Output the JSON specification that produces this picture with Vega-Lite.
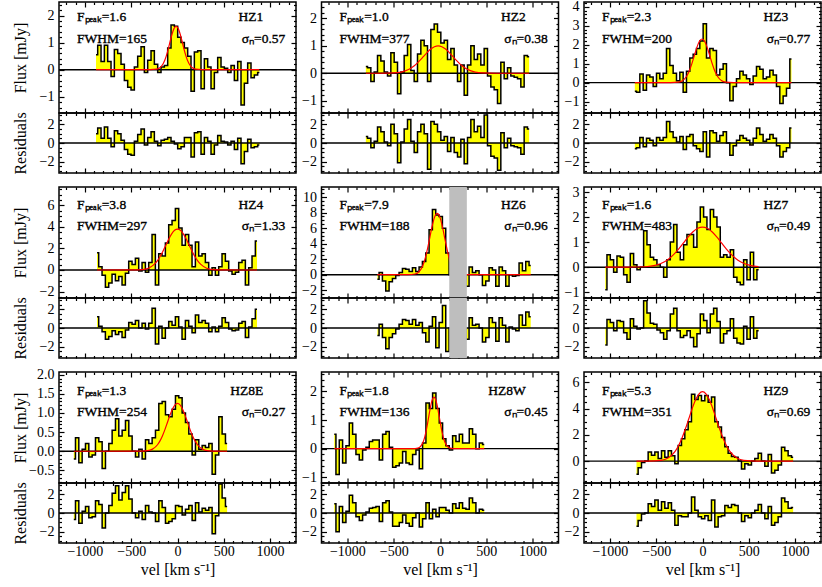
{
"$schema": "https://vega.github.io/schema/vega-lite/v6.json",
"background": "white",
"padding": {"left": 11, "top": -2, "right": 0, "bottom": 0},
"config": {
 "view": {"stroke": "black", "strokeWidth": 1.5},
 "axis": {"domain": false, "grid": false, "tickColor": "black", "tickSize": -5, "tickWidth": 1.2, "labelFont": "Liberation Serif", "labelFontSize": 14, "labelColor": "black", "titleFont": "Liberation Serif", "titleFontSize": 16, "titleFontWeight": "normal", "titleColor": "black", "labelFlush": false, "labelOverlap": false, "labelBound": false, "titlePadding": 3},
 "axisX": {"labelPadding": 6},
 "axisY": {"labelPadding": 10},
 "text": {"font": "Liberation Serif", "fontSize": 13.5, "baseline": "middle", "fill": "black", "stroke": "black", "strokeWidth": 0.35, "fontWeight": "normal"}
},
"datasets": {
 "HZ1": [{"v":-880,"f":0.55,"r":1.0},{"v":-844,"f":0.9,"r":1.6},{"v":-808,"f":0.3,"r":0.5},{"v":-772,"f":0.9,"r":1.7},{"v":-736,"f":0.3,"r":0.5},{"v":-700,"f":-0.25,"r":-0.4},{"v":-664,"f":0.75,"r":1.3},{"v":-628,"f":0.6,"r":1.0},{"v":-592,"f":0.2,"r":0.3},{"v":-556,"f":-0.4,"r":-0.7},{"v":-520,"f":-0.65,"r":-1.2},{"v":-484,"f":-0.75,"r":-1.3},{"v":-448,"f":0.1,"r":0.2},{"v":-412,"f":0.5,"r":0.9},{"v":-376,"f":0.85,"r":1.5},{"v":-340,"f":-0.1,"r":-0.2},{"v":-304,"f":0.35,"r":0.6},{"v":-268,"f":0.7,"r":1.2},{"v":-232,"f":0.2,"r":0.2},{"v":-196,"f":-0.1,"r":-0.3},{"v":-160,"f":0.1,"r":0.3},{"v":-124,"f":0.15,"r":0.4},{"v":-88,"f":0.8,"r":0.6},{"v":-52,"f":1.65,"r":0.2},{"v":-16,"f":1.6,"r":-0.1},{"v":20,"f":1.2,"r":-0.6},{"v":56,"f":1.0,"r":-0.4},{"v":92,"f":0.8,"r":0.6},{"v":128,"f":0.5,"r":0.6},{"v":164,"f":-0.8,"r":-1.5},{"v":200,"f":0.65,"r":1.1},{"v":236,"f":0.7,"r":1.2},{"v":272,"f":-0.7,"r":-1.2},{"v":308,"f":0.4,"r":0.6},{"v":344,"f":0.1,"r":0.2},{"v":380,"f":-0.7,"r":-1.2},{"v":416,"f":-0.1,"r":-0.2},{"v":452,"f":0.45,"r":0.8},{"v":488,"f":0.1,"r":0.2},{"v":524,"f":0.05,"r":0.1},{"v":560,"f":-0.1,"r":-0.2},{"v":596,"f":0.15,"r":0.2},{"v":632,"f":-0.4,"r":-0.7},{"v":668,"f":0.3,"r":0.5},{"v":704,"f":-1.3,"r":-2.2},{"v":740,"f":-0.5,"r":-0.9},{"v":776,"f":0.25,"r":0.4},{"v":812,"f":-0.3,"r":-0.5},{"v":848,"f":-0.2,"r":-0.4},{"v":884,"f":-0.1,"r":-0.2}],
 "HZ1g": [{"v":-880,"g":0},{"v":-295,"g":0.0005},{"v":-225,"g":0.018},{"v":-190,"g":0.07},{"v":-155,"g":0.216},{"v":-137.5,"g":0.346},{"v":-120,"g":0.52},{"v":-102.5,"g":0.732},{"v":-85,"g":0.97},{"v":-67.5,"g":1.208},{"v":-50,"g":1.412},{"v":-32.5,"g":1.551},{"v":-15,"g":1.6},{"v":2.5,"g":1.551},{"v":20,"g":1.412},{"v":37.5,"g":1.208},{"v":55,"g":0.97},{"v":72.5,"g":0.732},{"v":90,"g":0.52},{"v":107.5,"g":0.346},{"v":125,"g":0.216},{"v":160,"g":0.07},{"v":195,"g":0.018},{"v":265,"g":0.0005},{"v":884,"g":0}],
 "HZ2": [{"v":-801,"f":0.25,"r":0.7},{"v":-765,"f":0.2,"r":0.5},{"v":-729,"f":-0.3,"r":-0.5},{"v":-693,"f":0.05,"r":0.2},{"v":-657,"f":0.65,"r":1.7},{"v":-621,"f":0.45,"r":1.2},{"v":-585,"f":0.05,"r":0.1},{"v":-549,"f":-0.1,"r":-0.3},{"v":-513,"f":0.75,"r":2.0},{"v":-477,"f":0.4,"r":1.0},{"v":-441,"f":-0.75,"r":-2.1},{"v":-405,"f":0.05,"r":0.1},{"v":-369,"f":0.65,"r":1.5},{"v":-333,"f":1.05,"r":2.5},{"v":-297,"f":0.1,"r":0.2},{"v":-261,"f":-0.3,"r":-1.0},{"v":-225,"f":0.7,"r":1.2},{"v":-189,"f":1.2,"r":2.0},{"v":-153,"f":1.0,"r":1.0},{"v":-117,"f":-0.3,"r":-2.8},{"v":-81,"f":1.6,"r":2.3},{"v":-45,"f":1.8,"r":2.0},{"v":-9,"f":1.5,"r":1.2},{"v":27,"f":1.1,"r":0.3},{"v":63,"f":1.2,"r":0.7},{"v":99,"f":0.5,"r":-0.9},{"v":135,"f":0.9,"r":0.6},{"v":171,"f":0.3,"r":-1.0},{"v":207,"f":-0.3,"r":-1.5},{"v":243,"f":0.3,"r":0.4},{"v":279,"f":-0.8,"r":-2.2},{"v":315,"f":0.3,"r":0.6},{"v":351,"f":1.0,"r":2.5},{"v":387,"f":0.5,"r":1.2},{"v":423,"f":0.7,"r":1.8},{"v":459,"f":0.3,"r":0.6},{"v":495,"f":0.9,"r":3.0},{"v":531,"f":-0.1,"r":-0.3},{"v":567,"f":-0.5,"r":-1.4},{"v":603,"f":-0.6,"r":-1.6},{"v":639,"f":-1.1,"r":-2.9},{"v":675,"f":0.4,"r":1.1},{"v":711,"f":-0.2,"r":-0.5},{"v":747,"f":0.2,"r":0.5},{"v":783,"f":-0.1,"r":-0.3},{"v":819,"f":-0.15,"r":-0.4},{"v":855,"f":-0.2,"r":-0.5},{"v":891,"f":-0.5,"r":-1.2},{"v":927,"f":0.65,"r":1.7},{"v":963,"f":0.6,"r":1.5}],
 "HZ2g": [{"v":-801,"g":0},{"v":-660,"g":0.0003},{"v":-500,"g":0.011},{"v":-420,"g":0.044},{"v":-340,"g":0.135},{"v":-300,"g":0.216},{"v":-260,"g":0.325},{"v":-220,"g":0.458},{"v":-180,"g":0.607},{"v":-140,"g":0.755},{"v":-100,"g":0.883},{"v":-60,"g":0.969},{"v":-20,"g":1.0},{"v":20,"g":0.969},{"v":60,"g":0.883},{"v":100,"g":0.755},{"v":140,"g":0.607},{"v":180,"g":0.458},{"v":220,"g":0.325},{"v":260,"g":0.216},{"v":300,"g":0.135},{"v":380,"g":0.044},{"v":460,"g":0.011},{"v":620,"g":0.0003},{"v":963,"g":0}],
 "HZ3": [{"v":-731,"f":-0.45,"r":-0.6},{"v":-695,"f":-0.5,"r":-0.5},{"v":-659,"f":0.45,"r":0.6},{"v":-623,"f":-0.4,"r":-0.4},{"v":-587,"f":0.4,"r":0.5},{"v":-551,"f":0.3,"r":0.3},{"v":-515,"f":-0.2,"r":-0.3},{"v":-479,"f":0.5,"r":0.6},{"v":-443,"f":0.2,"r":0.3},{"v":-407,"f":0.5,"r":0.6},{"v":-371,"f":1.8,"r":2.3},{"v":-335,"f":0.9,"r":1.2},{"v":-299,"f":0.5,"r":0.6},{"v":-263,"f":0.1,"r":0.1},{"v":-227,"f":0.55,"r":0.7},{"v":-191,"f":-0.5,"r":-0.7},{"v":-155,"f":0.6,"r":0.7},{"v":-119,"f":1.3,"r":0.9},{"v":-83,"f":1.5,"r":-0.3},{"v":-47,"f":1.8,"r":-0.6},{"v":-11,"f":2.2,"r":-0.9},{"v":25,"f":3.1,"r":1.2},{"v":61,"f":1.3,"r":-1.5},{"v":97,"f":1.8,"r":1.3},{"v":133,"f":1.7,"r":1.1},{"v":169,"f":0.4,"r":0.2},{"v":205,"f":0.7,"r":0.8},{"v":241,"f":1.0,"r":1.2},{"v":277,"f":0.0,"r":0.0},{"v":313,"f":-0.95,"r":-1.3},{"v":349,"f":-0.2,"r":-0.3},{"v":385,"f":0.2,"r":0.3},{"v":421,"f":0.6,"r":0.8},{"v":457,"f":0.4,"r":0.5},{"v":493,"f":0.2,"r":0.3},{"v":529,"f":-0.1,"r":-0.2},{"v":565,"f":0.35,"r":0.5},{"v":601,"f":0.85,"r":1.6},{"v":637,"f":0.7,"r":0.9},{"v":673,"f":0.2,"r":0.2},{"v":709,"f":0.3,"r":0.4},{"v":745,"f":0.65,"r":0.9},{"v":781,"f":0.4,"r":0.5},{"v":817,"f":-0.2,"r":-0.3},{"v":853,"f":-1.1,"r":-1.5},{"v":889,"f":-0.7,"r":-0.9},{"v":925,"f":-0.3,"r":-0.5},{"v":961,"f":1.25,"r":1.6}],
 "HZ3g": [{"v":-731,"g":0},{"v":-345,"g":0.0007},{"v":-260,"g":0.026},{"v":-217.5,"g":0.101},{"v":-175,"g":0.311},{"v":-153.75,"g":0.497},{"v":-132.5,"g":0.747},{"v":-111.25,"g":1.053},{"v":-90,"g":1.395},{"v":-68.75,"g":1.736},{"v":-47.5,"g":2.03},{"v":-26.25,"g":2.229},{"v":-5,"g":2.3},{"v":16.25,"g":2.229},{"v":37.5,"g":2.03},{"v":58.75,"g":1.736},{"v":80,"g":1.395},{"v":101.25,"g":1.053},{"v":122.5,"g":0.747},{"v":143.75,"g":0.497},{"v":165,"g":0.311},{"v":207.5,"g":0.101},{"v":250,"g":0.026},{"v":335,"g":0.0007},{"v":961,"g":0}],
 "HZ4": [{"v":-869,"f":1.6,"r":1.2},{"v":-833,"f":0.3,"r":0.2},{"v":-797,"f":-0.5,"r":-0.4},{"v":-761,"f":-1.6,"r":-1.2},{"v":-725,"f":-1.2,"r":-0.9},{"v":-689,"f":-0.4,"r":-0.3},{"v":-653,"f":-1.0,"r":-0.7},{"v":-617,"f":-0.6,"r":-0.4},{"v":-581,"f":-1.4,"r":-1.0},{"v":-545,"f":-0.3,"r":-0.2},{"v":-509,"f":0.8,"r":0.6},{"v":-473,"f":0.5,"r":0.4},{"v":-437,"f":1.1,"r":0.8},{"v":-401,"f":-0.1,"r":0.0},{"v":-365,"f":0.7,"r":0.5},{"v":-329,"f":-0.2,"r":-0.1},{"v":-293,"f":0.7,"r":0.5},{"v":-257,"f":3.3,"r":2.1},{"v":-221,"f":-1.4,"r":-1.7},{"v":-185,"f":1.5,"r":0.2},{"v":-149,"f":1.3,"r":-1.1},{"v":-113,"f":2.5,"r":0.0},{"v":-77,"f":4.2,"r":0.7},{"v":-41,"f":4.6,"r":0.3},{"v":-5,"f":5.7,"r":1.2},{"v":31,"f":3.9,"r":0.1},{"v":67,"f":2.3,"r":-1.2},{"v":103,"f":3.3,"r":0.8},{"v":139,"f":2.3,"r":0.2},{"v":175,"f":0.3,"r":-0.5},{"v":211,"f":2.6,"r":1.4},{"v":247,"f":1.3,"r":0.6},{"v":283,"f":1.5,"r":0.8},{"v":319,"f":0.7,"r":0.5},{"v":355,"f":-0.5,"r":-0.4},{"v":391,"f":0.2,"r":0.1},{"v":427,"f":-0.5,"r":-0.4},{"v":463,"f":0.3,"r":0.2},{"v":499,"f":1.5,"r":1.1},{"v":535,"f":0.8,"r":0.6},{"v":571,"f":-0.1,"r":-0.1},{"v":607,"f":-0.4,"r":-0.3},{"v":643,"f":-0.2,"r":-0.2},{"v":679,"f":0.7,"r":0.5},{"v":715,"f":0.9,"r":0.7},{"v":751,"f":-1.4,"r":-1.0},{"v":787,"f":0.2,"r":0.1},{"v":823,"f":1.3,"r":1.0},{"v":859,"f":2.7,"r":2.0}],
 "HZ4g": [{"v":-869,"g":0},{"v":-504,"g":0.001},{"v":-378,"g":0.042},{"v":-315,"g":0.167},{"v":-252,"g":0.514},{"v":-220.5,"g":0.822},{"v":-189,"g":1.234},{"v":-157.5,"g":1.74},{"v":-126,"g":2.305},{"v":-94.5,"g":2.868},{"v":-63,"g":3.354},{"v":-31.5,"g":3.683},{"v":0,"g":3.8},{"v":31.5,"g":3.683},{"v":63,"g":3.354},{"v":94.5,"g":2.868},{"v":126,"g":2.305},{"v":157.5,"g":1.74},{"v":189,"g":1.234},{"v":220.5,"g":0.822},{"v":252,"g":0.514},{"v":315,"g":0.167},{"v":378,"g":0.042},{"v":504,"g":0.001},{"v":859,"g":0}],
 "HZ6": [{"v":-676,"f":-0.6,"r":-0.8},{"v":-640,"f":0.3,"r":0.4},{"v":-604,"f":-0.8,"r":-1.0},{"v":-568,"f":-2.1,"r":-2.2},{"v":-532,"f":-0.9,"r":-1.0},{"v":-496,"f":-0.5,"r":-0.6},{"v":-460,"f":-0.1,"r":-0.1},{"v":-424,"f":0.3,"r":0.4},{"v":-388,"f":0.8,"r":0.9},{"v":-352,"f":0.7,"r":0.8},{"v":-316,"f":0.4,"r":0.4},{"v":-280,"f":0.9,"r":0.9},{"v":-244,"f":0.4,"r":0.3},{"v":-208,"f":1.0,"r":0.6},{"v":-172,"f":1.7,"r":-0.5},{"v":-136,"f":2.8,"r":-1.5},{"v":-100,"f":5.8,"r":0.2},{"v":-64,"f":8.4,"r":1.2},{"v":-28,"f":7.7,"r":-2.1},{"v":8,"f":7.5,"r":0.6},{"v":44,"f":6.0,"r":2.4},{"v":80,"f":2.8,"r":-2.5},{"v":116,"f":0,"r":0},{"v":152,"f":0,"r":0},{"v":188,"f":0,"r":0},{"v":224,"f":0,"r":0},{"v":260,"f":0,"r":0},{"v":296,"f":-1.5,"r":-1.2},{"v":332,"f":1.0,"r":1.1},{"v":368,"f":0.3,"r":0.3},{"v":404,"f":0.5,"r":0.4},{"v":440,"f":0.0,"r":0.0},{"v":476,"f":-1.4,"r":-1.5},{"v":512,"f":-0.8,"r":-1.0},{"v":548,"f":0.9,"r":1.1},{"v":584,"f":0.6,"r":0.6},{"v":620,"f":-1.5,"r":-1.4},{"v":656,"f":1.0,"r":1.1},{"v":692,"f":0.5,"r":0.3},{"v":728,"f":-1.5,"r":-1.5},{"v":764,"f":0.0,"r":0.1},{"v":800,"f":-0.2,"r":-0.1},{"v":836,"f":-0.1,"r":-0.3},{"v":872,"f":1.5,"r":1.4},{"v":908,"f":0.5,"r":0.3},{"v":944,"f":1.7,"r":1.7},{"v":980,"f":1.2,"r":1.2}],
 "HZ6g": [{"v":-676,"g":0},{"v":-350,"g":0.002},{"v":-270,"g":0.088},{"v":-230,"g":0.347},{"v":-190,"g":1.069},{"v":-170,"g":1.709},{"v":-150,"g":2.565},{"v":-130,"g":3.617},{"v":-110,"g":4.791},{"v":-90,"g":5.963},{"v":-70,"g":6.972},{"v":-50,"g":7.657},{"v":-30,"g":7.9},{"v":-10,"g":7.657},{"v":10,"g":6.972},{"v":30,"g":5.963},{"v":50,"g":4.791},{"v":70,"g":3.617},{"v":90,"g":2.565},{"v":110,"g":1.709},{"v":130,"g":1.069},{"v":170,"g":0.347},{"v":210,"g":0.088},{"v":290,"g":0.002},{"v":980,"g":0}],
 "HZ7": [{"v":-1050,"f":-0.9,"r":-1.8},{"v":-1014,"f":0.5,"r":0.9},{"v":-978,"f":0.3,"r":0.6},{"v":-942,"f":-0.2,"r":-0.3},{"v":-906,"f":0.45,"r":0.8},{"v":-870,"f":0.4,"r":0.7},{"v":-834,"f":-0.3,"r":-0.5},{"v":-798,"f":-0.6,"r":-1.2},{"v":-762,"f":0.55,"r":1.0},{"v":-726,"f":0.1,"r":0.2},{"v":-690,"f":-0.1,"r":-0.1},{"v":-654,"f":0.0,"r":0.0},{"v":-618,"f":1.45,"r":2.9},{"v":-582,"f":0.9,"r":1.6},{"v":-546,"f":0.4,"r":0.5},{"v":-510,"f":0.3,"r":0.4},{"v":-474,"f":0.1,"r":-0.2},{"v":-438,"f":0.0,"r":-0.5},{"v":-402,"f":-0.4,"r":-1.2},{"v":-366,"f":0.3,"r":-0.3},{"v":-330,"f":1.0,"r":1.5},{"v":-294,"f":1.7,"r":2.1},{"v":-258,"f":0.6,"r":-0.3},{"v":-222,"f":0.3,"r":-1.0},{"v":-186,"f":0.9,"r":-0.8},{"v":-150,"f":1.3,"r":-0.3},{"v":-114,"f":1.3,"r":-1.0},{"v":-78,"f":0.8,"r":-2.0},{"v":-42,"f":1.8,"r":-0.6},{"v":-6,"f":2.4,"r":1.5},{"v":30,"f":2.0,"r":0.8},{"v":66,"f":1.5,"r":-0.5},{"v":102,"f":2.3,"r":1.5},{"v":138,"f":2.0,"r":2.1},{"v":174,"f":1.6,"r":0.7},{"v":210,"f":0.4,"r":-1.6},{"v":246,"f":0.5,"r":-0.6},{"v":282,"f":0.4,"r":-0.3},{"v":318,"f":0.7,"r":1.0},{"v":354,"f":-0.4,"r":-1.1},{"v":390,"f":-0.6,"r":-1.6},{"v":426,"f":-0.7,"r":-1.7},{"v":462,"f":0.3,"r":0.2},{"v":498,"f":-0.5,"r":-1.2},{"v":534,"f":0.6,"r":1.2},{"v":570,"f":-0.5,"r":-1.1},{"v":606,"f":-0.1,"r":-0.3}],
 "HZ7g": [{"v":-1050,"g":0},{"v":-820,"g":0.0005},{"v":-615,"g":0.018},{"v":-512.5,"g":0.07},{"v":-410,"g":0.216},{"v":-358.75,"g":0.346},{"v":-307.5,"g":0.52},{"v":-256.25,"g":0.732},{"v":-205,"g":0.97},{"v":-153.75,"g":1.208},{"v":-102.5,"g":1.412},{"v":-51.25,"g":1.551},{"v":0,"g":1.6},{"v":51.25,"g":1.551},{"v":102.5,"g":1.412},{"v":153.75,"g":1.208},{"v":205,"g":0.97},{"v":256.25,"g":0.732},{"v":307.5,"g":0.52},{"v":358.75,"g":0.346},{"v":410,"g":0.216},{"v":512.5,"g":0.07},{"v":606,"g":0.02}],
 "HZ8E": [{"v":-1120,"f":-0.2,"r":-0.7},{"v":-1084,"f":0.35,"r":1.3},{"v":-1048,"f":-0.3,"r":-1.1},{"v":-1012,"f":0.05,"r":0.2},{"v":-976,"f":0.2,"r":0.7},{"v":-940,"f":-0.15,"r":-0.5},{"v":-904,"f":-0.1,"r":-0.4},{"v":-868,"f":0.35,"r":1.3},{"v":-832,"f":0.25,"r":0.9},{"v":-796,"f":-0.45,"r":-1.6},{"v":-760,"f":0.0,"r":0.0},{"v":-724,"f":0.2,"r":0.8},{"v":-688,"f":0.55,"r":2.1},{"v":-652,"f":0.85,"r":2.9},{"v":-616,"f":0.4,"r":1.4},{"v":-580,"f":0.55,"r":2.2},{"v":-544,"f":0.8,"r":2.9},{"v":-508,"f":0.4,"r":1.5},{"v":-472,"f":0.0,"r":0.0},{"v":-436,"f":-0.15,"r":-0.5},{"v":-400,"f":0.05,"r":0.2},{"v":-364,"f":-0.2,"r":-0.7},{"v":-328,"f":0.3,"r":0.8},{"v":-292,"f":0.2,"r":0.1},{"v":-256,"f":0.35,"r":0.0},{"v":-220,"f":0.55,"r":-0.9},{"v":-184,"f":1.25,"r":1.3},{"v":-148,"f":1.3,"r":0.6},{"v":-112,"f":0.95,"r":-1.1},{"v":-76,"f":0.9,"r":-0.9},{"v":-40,"f":1.1,"r":-0.6},{"v":-4,"f":1.45,"r":0.8},{"v":32,"f":1.4,"r":0.7},{"v":68,"f":1.0,"r":-0.2},{"v":104,"f":0.75,"r":0.4},{"v":140,"f":0.45,"r":0.8},{"v":176,"f":-0.1,"r":-0.8},{"v":212,"f":0.3,"r":1.1},{"v":248,"f":0.05,"r":0.1},{"v":284,"f":0.15,"r":0.5},{"v":320,"f":0.1,"r":0.3},{"v":356,"f":0.2,"r":0.6},{"v":392,"f":-0.6,"r":-2.2},{"v":428,"f":-0.1,"r":-0.3},{"v":464,"f":0.9,"r":3.1},{"v":500,"f":0.45,"r":1.6},{"v":536,"f":0.2,"r":0.7}],
 "HZ8Eg": [{"v":-1120,"g":0},{"v":-432,"g":0.0004},{"v":-324,"g":0.014},{"v":-270,"g":0.055},{"v":-216,"g":0.169},{"v":-189,"g":0.27},{"v":-162,"g":0.406},{"v":-135,"g":0.572},{"v":-108,"g":0.758},{"v":-81,"g":0.944},{"v":-54,"g":1.103},{"v":-27,"g":1.212},{"v":0,"g":1.25},{"v":27,"g":1.212},{"v":54,"g":1.103},{"v":81,"g":0.944},{"v":108,"g":0.758},{"v":135,"g":0.572},{"v":162,"g":0.406},{"v":189,"g":0.27},{"v":216,"g":0.169},{"v":270,"g":0.055},{"v":324,"g":0.014},{"v":432,"g":0.0004},{"v":536,"g":0}],
 "HZ8W": [{"v":-1142,"f":0.5,"r":1.0},{"v":-1106,"f":-0.9,"r":-2.0},{"v":-1070,"f":0.3,"r":0.7},{"v":-1034,"f":-0.5,"r":-1.0},{"v":-998,"f":0.1,"r":0.2},{"v":-962,"f":0.9,"r":1.9},{"v":-926,"f":0.5,"r":1.1},{"v":-890,"f":-0.2,"r":-0.4},{"v":-854,"f":-0.4,"r":-0.8},{"v":-818,"f":-0.05,"r":-0.2},{"v":-782,"f":0.05,"r":0.1},{"v":-746,"f":0.25,"r":0.5},{"v":-710,"f":0.3,"r":0.6},{"v":-674,"f":0.3,"r":0.7},{"v":-638,"f":-0.4,"r":-0.9},{"v":-602,"f":0.5,"r":1.1},{"v":-566,"f":0.6,"r":1.3},{"v":-530,"f":0.05,"r":0.1},{"v":-494,"f":-0.65,"r":-1.4},{"v":-458,"f":-0.6,"r":-1.4},{"v":-422,"f":-0.5,"r":-1.0},{"v":-386,"f":-0.1,"r":-0.2},{"v":-350,"f":-0.5,"r":-1.1},{"v":-314,"f":-0.55,"r":-1.4},{"v":-278,"f":-0.2,"r":-0.5},{"v":-242,"f":-0.05,"r":0.0},{"v":-206,"f":-0.7,"r":-1.5},{"v":-170,"f":0.2,"r":-0.6},{"v":-134,"f":1.6,"r":1.1},{"v":-98,"f":1.4,"r":-0.6},{"v":-62,"f":1.95,"r":0.4},{"v":-26,"f":1.4,"r":-0.4},{"v":10,"f":0.9,"r":0.6},{"v":46,"f":0.35,"r":0.6},{"v":82,"f":0.1,"r":0.3},{"v":118,"f":-0.05,"r":0.0},{"v":154,"f":0.45,"r":1.0},{"v":190,"f":0.25,"r":0.5},{"v":226,"f":0.5,"r":1.1},{"v":262,"f":0.2,"r":0.5},{"v":298,"f":0.2,"r":0.4},{"v":334,"f":0.7,"r":1.6},{"v":370,"f":0.5,"r":1.1},{"v":406,"f":0.0,"r":0.0},{"v":442,"f":0.2,"r":0.4},{"v":478,"f":0.15,"r":0.3}],
 "HZ8Wg": [{"v":-1142,"g":0},{"v":-297,"g":0.0005},{"v":-239,"g":0.02},{"v":-210,"g":0.079},{"v":-181,"g":0.244},{"v":-166.5,"g":0.389},{"v":-152,"g":0.584},{"v":-137.5,"g":0.824},{"v":-123,"g":1.092},{"v":-108.5,"g":1.359},{"v":-94,"g":1.589},{"v":-79.5,"g":1.745},{"v":-65,"g":1.8},{"v":-50.5,"g":1.745},{"v":-36,"g":1.589},{"v":-21.5,"g":1.359},{"v":-7,"g":1.092},{"v":7.5,"g":0.824},{"v":22,"g":0.584},{"v":36.5,"g":0.389},{"v":51,"g":0.244},{"v":80,"g":0.079},{"v":109,"g":0.02},{"v":167,"g":0.0005},{"v":478,"g":0}],
 "HZ9": [{"v":-713,"f":-1.0,"r":-1.4},{"v":-677,"f":-0.5,"r":-0.8},{"v":-641,"f":-0.1,"r":-0.1},{"v":-605,"f":0.0,"r":0.0},{"v":-569,"f":0.7,"r":1.0},{"v":-533,"f":0.45,"r":0.7},{"v":-497,"f":0.7,"r":1.4},{"v":-461,"f":0.2,"r":0.3},{"v":-425,"f":0.8,"r":1.2},{"v":-389,"f":0.3,"r":0.5},{"v":-353,"f":0.8,"r":1.1},{"v":-317,"f":0.4,"r":0.3},{"v":-281,"f":-0.2,"r":-1.3},{"v":-245,"f":1.2,"r":-0.3},{"v":-209,"f":1.7,"r":-0.4},{"v":-173,"f":2.4,"r":-0.4},{"v":-137,"f":3.0,"r":0.0},{"v":-101,"f":5.1,"r":1.7},{"v":-65,"f":4.7,"r":0.3},{"v":-29,"f":5.0,"r":-0.4},{"v":7,"f":4.6,"r":-0.6},{"v":43,"f":5.0,"r":-0.3},{"v":79,"f":4.5,"r":-0.8},{"v":115,"f":4.9,"r":1.4},{"v":151,"f":3.0,"r":-1.5},{"v":187,"f":2.6,"r":-0.4},{"v":223,"f":1.8,"r":-0.3},{"v":259,"f":1.1,"r":0.8},{"v":295,"f":0.6,"r":0.6},{"v":331,"f":0.35,"r":0.9},{"v":367,"f":0.3,"r":0.8},{"v":403,"f":0.0,"r":0.0},{"v":439,"f":-0.6,"r":-0.9},{"v":475,"f":-0.2,"r":-0.3},{"v":511,"f":-0.3,"r":-0.5},{"v":547,"f":0.0,"r":0.0},{"v":583,"f":0.2,"r":0.3},{"v":619,"f":0.6,"r":0.9},{"v":655,"f":0.0,"r":0.0},{"v":691,"f":-0.4,"r":-0.6},{"v":727,"f":0.5,"r":0.7},{"v":763,"f":-0.9,"r":-1.3},{"v":799,"f":-0.7,"r":-1.0},{"v":835,"f":-0.3,"r":-0.4},{"v":871,"f":1.05,"r":1.6},{"v":907,"f":0.8,"r":1.2},{"v":943,"f":0.4,"r":0.5},{"v":979,"f":0.3,"r":0.6}],
 "HZ9g": [{"v":-713,"g":0},{"v":-596,"g":0.0016},{"v":-447,"g":0.059},{"v":-372.5,"g":0.233},{"v":-298,"g":0.717},{"v":-260.75,"g":1.146},{"v":-223.5,"g":1.721},{"v":-186.25,"g":2.426},{"v":-149,"g":3.214},{"v":-111.75,"g":4.0},{"v":-74.5,"g":4.677},{"v":-37.25,"g":5.137},{"v":0,"g":5.3},{"v":37.25,"g":5.137},{"v":74.5,"g":4.677},{"v":111.75,"g":4.0},{"v":149,"g":3.214},{"v":186.25,"g":2.426},{"v":223.5,"g":1.721},{"v":260.75,"g":1.146},{"v":298,"g":0.717},{"v":372.5,"g":0.233},{"v":447,"g":0.059},{"v":596,"g":0.0016},{"v":979,"g":0}],
 "blank": [{}]
},
"columns": 3,
"spacing": {"row": 0, "column": 25.5},
"bounds": "flush",
"concat": [
   {"width": 237, "height": 111, "data": {"name": "HZ1"}, "resolve": {"axis": {"x": "independent", "y": "independent"}},
    "layer": [
     {"mark": {"type": "area", "interpolate": "step", "color": "#ffff00", "clip": true}, "encoding": {
       "x": {"field": "v", "type": "quantitative", "scale": {"domain": [-1280, 1280], "nice": false}, "axis": {"orient": "bottom", "values": [-1000,-500,0,500,1000], "labels": false, "title": null}},
       "y": {"field": "f", "type": "quantitative", "stack": null, "scale": {"domain": [-1.6, 2.5], "nice": false, "zero": false}, "axis": {"orient": "left", "values": [-1,0,1,2], "format": "d", "title": "Flux [mJy]", "titleX": -34, "titleBaseline": "alphabetic"}}}},
     {"mark": {"type": "line", "interpolate": "step", "color": "black", "strokeWidth": 1.5, "clip": true}, "encoding": {
       "x": {"field": "v", "type": "quantitative", "axis": {"orient": "top", "values": [-1000,-500,0,500,1000], "labels": false, "title": null}},
       "y": {"field": "f", "type": "quantitative", "axis": {"orient": "right", "values": [-1,0,1,2], "labels": false, "title": null}}}},
     {"data": {"name": "blank"}, "mark": {"type": "rule", "color": "black", "strokeWidth": 1.4}, "encoding": {"y": {"datum": 0, "type": "quantitative", "axis": null}}},
     {"data": {"name": "HZ1g"}, "mark": {"type": "line", "interpolate": "monotone", "color": "#ff0000", "strokeWidth": 1.2, "clip": true}, "encoding": {
       "x": {"field": "v", "type": "quantitative", "axis": {"orient": "bottom", "values": [-1200,-1100,-900,-800,-700,-600,-400,-300,-200,-100,100,200,300,400,600,700,800,900,1100,1200], "labels": false, "tickSize": -2.5, "title": null}},
       "y": {"field": "g", "type": "quantitative", "axis": {"orient": "left", "values": [-1.4,-1.2,-0.8,-0.6,-0.4,-0.2,0.2,0.4,0.6,0.8,1.2,1.4,1.6,1.8,2.2,2.4], "labels": false, "tickSize": -2.5, "title": null}}}},
     {"mark": {"type": "point", "opacity": 0}, "encoding": {
       "x": {"field": "v", "type": "quantitative", "axis": {"orient": "top", "values": [-1200,-1100,-900,-800,-700,-600,-400,-300,-200,-100,100,200,300,400,600,700,800,900,1100,1200], "labels": false, "tickSize": -2.5, "title": null}},
       "y": {"field": "f", "type": "quantitative", "axis": {"orient": "right", "values": [-1.4,-1.2,-0.8,-0.6,-0.4,-0.2,0.2,0.4,0.6,0.8,1.2,1.4,1.6,1.8,2.2,2.4], "labels": false, "tickSize": -2.5, "title": null}}}},
     {"data": {"name": "blank"}, "mark": {"type": "text", "align": "left", "text": "Fₚₑₐₖ=1.6"}, "encoding": {"x": {"datum": -1085, "type": "quantitative", "axis": null}, "y": {"datum": 1.95, "type": "quantitative", "axis": null}}},
     {"data": {"name": "blank"}, "mark": {"type": "text", "align": "left", "text": "FWHM=165"}, "encoding": {"x": {"datum": -1085, "type": "quantitative", "axis": null}, "y": {"datum": 1.13, "type": "quantitative", "axis": null}}},
     {"data": {"name": "blank"}, "mark": {"type": "text", "align": "right", "text": "HZ1"}, "encoding": {"x": {"datum": 925, "type": "quantitative", "axis": null}, "y": {"datum": 1.95, "type": "quantitative", "axis": null}}},
     {"data": {"name": "blank"}, "mark": {"type": "text", "align": "right", "text": "σₙ=0.57"}, "encoding": {"x": {"datum": 1165, "type": "quantitative", "axis": null}, "y": {"datum": 1.13, "type": "quantitative", "axis": null}}}
    ]},
   {"width": 237, "height": 111, "data": {"name": "HZ2"}, "resolve": {"axis": {"x": "independent", "y": "independent"}},
    "layer": [
     {"mark": {"type": "area", "interpolate": "step", "color": "#ffff00", "clip": true}, "encoding": {
       "x": {"field": "v", "type": "quantitative", "scale": {"domain": [-1280, 1280], "nice": false}, "axis": {"orient": "bottom", "values": [-1000,-500,0,500,1000], "labels": false, "title": null}},
       "y": {"field": "f", "type": "quantitative", "stack": null, "scale": {"domain": [-1.45, 2.6], "nice": false, "zero": false}, "axis": {"orient": "left", "values": [-1,0,1,2], "format": "d", "title": null}}}},
     {"mark": {"type": "line", "interpolate": "step", "color": "black", "strokeWidth": 1.5, "clip": true}, "encoding": {
       "x": {"field": "v", "type": "quantitative", "axis": {"orient": "top", "values": [-1000,-500,0,500,1000], "labels": false, "title": null}},
       "y": {"field": "f", "type": "quantitative", "axis": {"orient": "right", "values": [-1,0,1,2], "labels": false, "title": null}}}},
     {"data": {"name": "blank"}, "mark": {"type": "rule", "color": "black", "strokeWidth": 1.4}, "encoding": {"y": {"datum": 0, "type": "quantitative", "axis": null}}},
     {"data": {"name": "HZ2g"}, "mark": {"type": "line", "interpolate": "monotone", "color": "#ff0000", "strokeWidth": 1.2, "clip": true}, "encoding": {
       "x": {"field": "v", "type": "quantitative", "axis": {"orient": "bottom", "values": [-1200,-1100,-900,-800,-700,-600,-400,-300,-200,-100,100,200,300,400,600,700,800,900,1100,1200], "labels": false, "tickSize": -2.5, "title": null}},
       "y": {"field": "g", "type": "quantitative", "axis": {"orient": "left", "values": [-1.4,-1.2,-0.8,-0.6,-0.4,-0.2,0.2,0.4,0.6,0.8,1.2,1.4,1.6,1.8,2.2,2.4], "labels": false, "tickSize": -2.5, "title": null}}}},
     {"mark": {"type": "point", "opacity": 0}, "encoding": {
       "x": {"field": "v", "type": "quantitative", "axis": {"orient": "top", "values": [-1200,-1100,-900,-800,-700,-600,-400,-300,-200,-100,100,200,300,400,600,700,800,900,1100,1200], "labels": false, "tickSize": -2.5, "title": null}},
       "y": {"field": "f", "type": "quantitative", "axis": {"orient": "right", "values": [-1.4,-1.2,-0.8,-0.6,-0.4,-0.2,0.2,0.4,0.6,0.8,1.2,1.4,1.6,1.8,2.2,2.4], "labels": false, "tickSize": -2.5, "title": null}}}},
     {"data": {"name": "blank"}, "mark": {"type": "text", "align": "left", "text": "Fₚₑₐₖ=1.0"}, "encoding": {"x": {"datum": -1085, "type": "quantitative", "axis": null}, "y": {"datum": 2.05, "type": "quantitative", "axis": null}}},
     {"data": {"name": "blank"}, "mark": {"type": "text", "align": "left", "text": "FWHM=377"}, "encoding": {"x": {"datum": -1085, "type": "quantitative", "axis": null}, "y": {"datum": 1.25, "type": "quantitative", "axis": null}}},
     {"data": {"name": "blank"}, "mark": {"type": "text", "align": "right", "text": "HZ2"}, "encoding": {"x": {"datum": 925, "type": "quantitative", "axis": null}, "y": {"datum": 2.05, "type": "quantitative", "axis": null}}},
     {"data": {"name": "blank"}, "mark": {"type": "text", "align": "right", "text": "σₙ=0.38"}, "encoding": {"x": {"datum": 1165, "type": "quantitative", "axis": null}, "y": {"datum": 1.25, "type": "quantitative", "axis": null}}}
    ]},
   {"width": 237, "height": 111, "data": {"name": "HZ3"}, "resolve": {"axis": {"x": "independent", "y": "independent"}},
    "layer": [
     {"mark": {"type": "area", "interpolate": "step", "color": "#ffff00", "clip": true}, "encoding": {
       "x": {"field": "v", "type": "quantitative", "scale": {"domain": [-1280, 1280], "nice": false}, "axis": {"orient": "bottom", "values": [-1000,-500,0,500,1000], "labels": false, "title": null}},
       "y": {"field": "f", "type": "quantitative", "stack": null, "scale": {"domain": [-1.6, 4.25], "nice": false, "zero": false}, "axis": {"orient": "left", "values": [-1,0,1,2,3,4], "format": "d", "title": null}}}},
     {"mark": {"type": "line", "interpolate": "step", "color": "black", "strokeWidth": 1.5, "clip": true}, "encoding": {
       "x": {"field": "v", "type": "quantitative", "axis": {"orient": "top", "values": [-1000,-500,0,500,1000], "labels": false, "title": null}},
       "y": {"field": "f", "type": "quantitative", "axis": {"orient": "right", "values": [-1,0,1,2,3,4], "labels": false, "title": null}}}},
     {"data": {"name": "blank"}, "mark": {"type": "rule", "color": "black", "strokeWidth": 1.4}, "encoding": {"y": {"datum": 0, "type": "quantitative", "axis": null}}},
     {"data": {"name": "HZ3g"}, "mark": {"type": "line", "interpolate": "monotone", "color": "#ff0000", "strokeWidth": 1.2, "clip": true}, "encoding": {
       "x": {"field": "v", "type": "quantitative", "axis": {"orient": "bottom", "values": [-1200,-1100,-900,-800,-700,-600,-400,-300,-200,-100,100,200,300,400,600,700,800,900,1100,1200], "labels": false, "tickSize": -2.5, "title": null}},
       "y": {"field": "g", "type": "quantitative", "axis": {"orient": "left", "values": [-1.4,-1.2,-0.8,-0.6,-0.4,-0.2,0.2,0.4,0.6,0.8,1.2,1.4,1.6,1.8,2.2,2.4,2.6,2.8,3.2,3.4,3.6,3.8,4.2], "labels": false, "tickSize": -2.5, "title": null}}}},
     {"mark": {"type": "point", "opacity": 0}, "encoding": {
       "x": {"field": "v", "type": "quantitative", "axis": {"orient": "top", "values": [-1200,-1100,-900,-800,-700,-600,-400,-300,-200,-100,100,200,300,400,600,700,800,900,1100,1200], "labels": false, "tickSize": -2.5, "title": null}},
       "y": {"field": "f", "type": "quantitative", "axis": {"orient": "right", "values": [-1.4,-1.2,-0.8,-0.6,-0.4,-0.2,0.2,0.4,0.6,0.8,1.2,1.4,1.6,1.8,2.2,2.4,2.6,2.8,3.2,3.4,3.6,3.8,4.2], "labels": false, "tickSize": -2.5, "title": null}}}},
     {"data": {"name": "blank"}, "mark": {"type": "text", "align": "left", "text": "Fₚₑₐₖ=2.3"}, "encoding": {"x": {"datum": -1085, "type": "quantitative", "axis": null}, "y": {"datum": 3.46, "type": "quantitative", "axis": null}}},
     {"data": {"name": "blank"}, "mark": {"type": "text", "align": "left", "text": "FWHM=200"}, "encoding": {"x": {"datum": -1085, "type": "quantitative", "axis": null}, "y": {"datum": 2.3, "type": "quantitative", "axis": null}}},
     {"data": {"name": "blank"}, "mark": {"type": "text", "align": "right", "text": "HZ3"}, "encoding": {"x": {"datum": 925, "type": "quantitative", "axis": null}, "y": {"datum": 3.46, "type": "quantitative", "axis": null}}},
     {"data": {"name": "blank"}, "mark": {"type": "text", "align": "right", "text": "σₙ=0.77"}, "encoding": {"x": {"datum": 1165, "type": "quantitative", "axis": null}, "y": {"datum": 2.3, "type": "quantitative", "axis": null}}}
    ]},
   {"width": 237, "height": 60, "data": {"name": "HZ1"}, "resolve": {"axis": {"x": "independent", "y": "independent"}},
    "layer": [
     {"mark": {"type": "area", "interpolate": "step", "color": "#ffff00", "clip": true}, "encoding": {
       "x": {"field": "v", "type": "quantitative", "scale": {"domain": [-1280, 1280], "nice": false}, "axis": {"orient": "bottom", "values": [-1000,-500,0,500,1000], "labels": false, "title": null}},
       "y": {"field": "r", "type": "quantitative", "stack": null, "scale": {"domain": [-3.2, 3.2], "nice": false, "zero": false}, "axis": {"orient": "left", "values": [-2,0,2], "format": "d", "title": "Residuals", "titleX": -34, "titleBaseline": "alphabetic"}}}},
     {"mark": {"type": "line", "interpolate": "step", "color": "black", "strokeWidth": 1.5, "clip": true}, "encoding": {
       "x": {"field": "v", "type": "quantitative", "axis": {"orient": "top", "values": [-1000,-500,0,500,1000], "labels": false, "title": null}},
       "y": {"field": "r", "type": "quantitative", "axis": {"orient": "right", "values": [-2,0,2], "labels": false, "title": null}}}},
     {"data": {"name": "blank"}, "mark": {"type": "rule", "color": "black", "strokeWidth": 1.4}, "encoding": {"y": {"datum": 0, "type": "quantitative", "axis": null}}},
     {"mark": {"type": "point", "opacity": 0}, "encoding": {
       "x": {"field": "v", "type": "quantitative", "axis": {"orient": "bottom", "values": [-1200,-1100,-900,-800,-700,-600,-400,-300,-200,-100,100,200,300,400,600,700,800,900,1100,1200], "labels": false, "tickSize": -2.5, "title": null}},
       "y": {"field": "r", "type": "quantitative", "axis": {"orient": "left", "values": [-3,-2.5,-1.5,-1,-0.5,0.5,1,1.5,2.5,3], "labels": false, "tickSize": -2.5, "title": null}}}},
     {"mark": {"type": "point", "opacity": 0}, "encoding": {
       "x": {"field": "v", "type": "quantitative", "axis": {"orient": "top", "values": [-1200,-1100,-900,-800,-700,-600,-400,-300,-200,-100,100,200,300,400,600,700,800,900,1100,1200], "labels": false, "tickSize": -2.5, "title": null}},
       "y": {"field": "r", "type": "quantitative", "axis": {"orient": "right", "values": [-3,-2.5,-1.5,-1,-0.5,0.5,1,1.5,2.5,3], "labels": false, "tickSize": -2.5, "title": null}}}}
    ]},
   {"width": 237, "height": 60, "data": {"name": "HZ2"}, "resolve": {"axis": {"x": "independent", "y": "independent"}},
    "layer": [
     {"mark": {"type": "area", "interpolate": "step", "color": "#ffff00", "clip": true}, "encoding": {
       "x": {"field": "v", "type": "quantitative", "scale": {"domain": [-1280, 1280], "nice": false}, "axis": {"orient": "bottom", "values": [-1000,-500,0,500,1000], "labels": false, "title": null}},
       "y": {"field": "r", "type": "quantitative", "stack": null, "scale": {"domain": [-3.2, 3.2], "nice": false, "zero": false}, "axis": {"orient": "left", "values": [-2,0,2], "format": "d", "title": null}}}},
     {"mark": {"type": "line", "interpolate": "step", "color": "black", "strokeWidth": 1.5, "clip": true}, "encoding": {
       "x": {"field": "v", "type": "quantitative", "axis": {"orient": "top", "values": [-1000,-500,0,500,1000], "labels": false, "title": null}},
       "y": {"field": "r", "type": "quantitative", "axis": {"orient": "right", "values": [-2,0,2], "labels": false, "title": null}}}},
     {"data": {"name": "blank"}, "mark": {"type": "rule", "color": "black", "strokeWidth": 1.4}, "encoding": {"y": {"datum": 0, "type": "quantitative", "axis": null}}},
     {"mark": {"type": "point", "opacity": 0}, "encoding": {
       "x": {"field": "v", "type": "quantitative", "axis": {"orient": "bottom", "values": [-1200,-1100,-900,-800,-700,-600,-400,-300,-200,-100,100,200,300,400,600,700,800,900,1100,1200], "labels": false, "tickSize": -2.5, "title": null}},
       "y": {"field": "r", "type": "quantitative", "axis": {"orient": "left", "values": [-3,-2.5,-1.5,-1,-0.5,0.5,1,1.5,2.5,3], "labels": false, "tickSize": -2.5, "title": null}}}},
     {"mark": {"type": "point", "opacity": 0}, "encoding": {
       "x": {"field": "v", "type": "quantitative", "axis": {"orient": "top", "values": [-1200,-1100,-900,-800,-700,-600,-400,-300,-200,-100,100,200,300,400,600,700,800,900,1100,1200], "labels": false, "tickSize": -2.5, "title": null}},
       "y": {"field": "r", "type": "quantitative", "axis": {"orient": "right", "values": [-3,-2.5,-1.5,-1,-0.5,0.5,1,1.5,2.5,3], "labels": false, "tickSize": -2.5, "title": null}}}}
    ]},
   {"width": 237, "height": 60, "data": {"name": "HZ3"}, "resolve": {"axis": {"x": "independent", "y": "independent"}},
    "layer": [
     {"mark": {"type": "area", "interpolate": "step", "color": "#ffff00", "clip": true}, "encoding": {
       "x": {"field": "v", "type": "quantitative", "scale": {"domain": [-1280, 1280], "nice": false}, "axis": {"orient": "bottom", "values": [-1000,-500,0,500,1000], "labels": false, "title": null}},
       "y": {"field": "r", "type": "quantitative", "stack": null, "scale": {"domain": [-3.2, 3.2], "nice": false, "zero": false}, "axis": {"orient": "left", "values": [-2,0,2], "format": "d", "title": null}}}},
     {"mark": {"type": "line", "interpolate": "step", "color": "black", "strokeWidth": 1.5, "clip": true}, "encoding": {
       "x": {"field": "v", "type": "quantitative", "axis": {"orient": "top", "values": [-1000,-500,0,500,1000], "labels": false, "title": null}},
       "y": {"field": "r", "type": "quantitative", "axis": {"orient": "right", "values": [-2,0,2], "labels": false, "title": null}}}},
     {"data": {"name": "blank"}, "mark": {"type": "rule", "color": "black", "strokeWidth": 1.4}, "encoding": {"y": {"datum": 0, "type": "quantitative", "axis": null}}},
     {"mark": {"type": "point", "opacity": 0}, "encoding": {
       "x": {"field": "v", "type": "quantitative", "axis": {"orient": "bottom", "values": [-1200,-1100,-900,-800,-700,-600,-400,-300,-200,-100,100,200,300,400,600,700,800,900,1100,1200], "labels": false, "tickSize": -2.5, "title": null}},
       "y": {"field": "r", "type": "quantitative", "axis": {"orient": "left", "values": [-3,-2.5,-1.5,-1,-0.5,0.5,1,1.5,2.5,3], "labels": false, "tickSize": -2.5, "title": null}}}},
     {"mark": {"type": "point", "opacity": 0}, "encoding": {
       "x": {"field": "v", "type": "quantitative", "axis": {"orient": "top", "values": [-1200,-1100,-900,-800,-700,-600,-400,-300,-200,-100,100,200,300,400,600,700,800,900,1100,1200], "labels": false, "tickSize": -2.5, "title": null}},
       "y": {"field": "r", "type": "quantitative", "axis": {"orient": "right", "values": [-3,-2.5,-1.5,-1,-0.5,0.5,1,1.5,2.5,3], "labels": false, "tickSize": -2.5, "title": null}}}}
    ]},
   {"width": 237, "height": 14, "data": {"name": "blank"}, "view": {"stroke": null}, "mark": {"type": "point", "opacity": 0}, "encoding": {}},
   {"width": 237, "height": 14, "data": {"name": "blank"}, "view": {"stroke": null}, "mark": {"type": "point", "opacity": 0}, "encoding": {}},
   {"width": 237, "height": 14, "data": {"name": "blank"}, "view": {"stroke": null}, "mark": {"type": "point", "opacity": 0}, "encoding": {}},
   {"width": 237, "height": 111, "data": {"name": "HZ4"}, "resolve": {"axis": {"x": "independent", "y": "independent"}},
    "layer": [
     {"mark": {"type": "area", "interpolate": "step", "color": "#ffff00", "clip": true}, "encoding": {
       "x": {"field": "v", "type": "quantitative", "scale": {"domain": [-1280, 1280], "nice": false}, "axis": {"orient": "bottom", "values": [-1000,-500,0,500,1000], "labels": false, "title": null}},
       "y": {"field": "f", "type": "quantitative", "stack": null, "scale": {"domain": [-2.6, 7.7], "nice": false, "zero": false}, "axis": {"orient": "left", "values": [-2,0,2,4,6], "format": "d", "title": "Flux [mJy]", "titleX": -34, "titleBaseline": "alphabetic"}}}},
     {"mark": {"type": "line", "interpolate": "step", "color": "black", "strokeWidth": 1.5, "clip": true}, "encoding": {
       "x": {"field": "v", "type": "quantitative", "axis": {"orient": "top", "values": [-1000,-500,0,500,1000], "labels": false, "title": null}},
       "y": {"field": "f", "type": "quantitative", "axis": {"orient": "right", "values": [-2,0,2,4,6], "labels": false, "title": null}}}},
     {"data": {"name": "blank"}, "mark": {"type": "rule", "color": "black", "strokeWidth": 1.4}, "encoding": {"y": {"datum": 0, "type": "quantitative", "axis": null}}},
     {"data": {"name": "HZ4g"}, "mark": {"type": "line", "interpolate": "monotone", "color": "#ff0000", "strokeWidth": 1.2, "clip": true}, "encoding": {
       "x": {"field": "v", "type": "quantitative", "axis": {"orient": "bottom", "values": [-1200,-1100,-900,-800,-700,-600,-400,-300,-200,-100,100,200,300,400,600,700,800,900,1100,1200], "labels": false, "tickSize": -2.5, "title": null}},
       "y": {"field": "g", "type": "quantitative", "axis": {"orient": "left", "values": [-2.5,-1.5,-1,-0.5,0.5,1,1.5,2.5,3,3.5,4.5,5,5.5,6.5,7,7.5], "labels": false, "tickSize": -2.5, "title": null}}}},
     {"mark": {"type": "point", "opacity": 0}, "encoding": {
       "x": {"field": "v", "type": "quantitative", "axis": {"orient": "top", "values": [-1200,-1100,-900,-800,-700,-600,-400,-300,-200,-100,100,200,300,400,600,700,800,900,1100,1200], "labels": false, "tickSize": -2.5, "title": null}},
       "y": {"field": "f", "type": "quantitative", "axis": {"orient": "right", "values": [-2.5,-1.5,-1,-0.5,0.5,1,1.5,2.5,3,3.5,4.5,5,5.5,6.5,7,7.5], "labels": false, "tickSize": -2.5, "title": null}}}},
     {"data": {"name": "blank"}, "mark": {"type": "text", "align": "left", "text": "Fₚₑₐₖ=3.8"}, "encoding": {"x": {"datum": -1085, "type": "quantitative", "axis": null}, "y": {"datum": 6.03, "type": "quantitative", "axis": null}}},
     {"data": {"name": "blank"}, "mark": {"type": "text", "align": "left", "text": "FWHM=297"}, "encoding": {"x": {"datum": -1085, "type": "quantitative", "axis": null}, "y": {"datum": 4.08, "type": "quantitative", "axis": null}}},
     {"data": {"name": "blank"}, "mark": {"type": "text", "align": "right", "text": "HZ4"}, "encoding": {"x": {"datum": 925, "type": "quantitative", "axis": null}, "y": {"datum": 6.03, "type": "quantitative", "axis": null}}},
     {"data": {"name": "blank"}, "mark": {"type": "text", "align": "right", "text": "σₙ=1.33"}, "encoding": {"x": {"datum": 1165, "type": "quantitative", "axis": null}, "y": {"datum": 4.08, "type": "quantitative", "axis": null}}}
    ]},
   {"width": 237, "height": 111, "data": {"name": "HZ6"}, "resolve": {"axis": {"x": "independent", "y": "independent"}},
    "layer": [
     {"mark": {"type": "area", "interpolate": "step", "color": "#ffff00", "clip": true}, "encoding": {
       "x": {"field": "v", "type": "quantitative", "scale": {"domain": [-1280, 1280], "nice": false}, "axis": {"orient": "bottom", "values": [-1000,-500,0,500,1000], "labels": false, "title": null}},
       "y": {"field": "f", "type": "quantitative", "stack": null, "scale": {"domain": [-3.0, 11.3], "nice": false, "zero": false}, "axis": {"orient": "left", "values": [-2,0,2,4,6,8,10], "format": "d", "title": null}}}},
     {"mark": {"type": "line", "interpolate": "step", "color": "black", "strokeWidth": 1.5, "clip": true}, "encoding": {
       "x": {"field": "v", "type": "quantitative", "axis": {"orient": "top", "values": [-1000,-500,0,500,1000], "labels": false, "title": null}},
       "y": {"field": "f", "type": "quantitative", "axis": {"orient": "right", "values": [-2,0,2,4,6,8,10], "labels": false, "title": null}}}},
     {"data": {"name": "blank"}, "mark": {"type": "rule", "color": "black", "strokeWidth": 1.4}, "encoding": {"y": {"datum": 0, "type": "quantitative", "axis": null}}},
     {"data": {"name": "HZ6g"}, "mark": {"type": "line", "interpolate": "monotone", "color": "#ff0000", "strokeWidth": 1.2, "clip": true}, "encoding": {
       "x": {"field": "v", "type": "quantitative", "axis": {"orient": "bottom", "values": [-1200,-1100,-900,-800,-700,-600,-400,-300,-200,-100,100,200,300,400,600,700,800,900,1100,1200], "labels": false, "tickSize": -2.5, "title": null}},
       "y": {"field": "g", "type": "quantitative", "axis": {"orient": "left", "values": [-2.5,-1.5,-1,-0.5,0.5,1,1.5,2.5,3,3.5,4.5,5,5.5,6.5,7,7.5,8.5,9,9.5,10.5,11], "labels": false, "tickSize": -2.5, "title": null}}}},
     {"mark": {"type": "point", "opacity": 0}, "encoding": {
       "x": {"field": "v", "type": "quantitative", "axis": {"orient": "top", "values": [-1200,-1100,-900,-800,-700,-600,-400,-300,-200,-100,100,200,300,400,600,700,800,900,1100,1200], "labels": false, "tickSize": -2.5, "title": null}},
       "y": {"field": "f", "type": "quantitative", "axis": {"orient": "right", "values": [-2.5,-1.5,-1,-0.5,0.5,1,1.5,2.5,3,3.5,4.5,5,5.5,6.5,7,7.5,8.5,9,9.5,10.5,11], "labels": false, "tickSize": -2.5, "title": null}}}},
     {"data": {"name": "blank"}, "mark": {"type": "rect", "color": "#bebebe"}, "encoding": {"x": {"datum": 100, "type": "quantitative", "axis": null}, "x2": {"datum": 290}}},
     {"data": {"name": "blank"}, "mark": {"type": "text", "align": "left", "text": "Fₚₑₐₖ=7.9"}, "encoding": {"x": {"datum": -1085, "type": "quantitative", "axis": null}, "y": {"datum": 8.98, "type": "quantitative", "axis": null}}},
     {"data": {"name": "blank"}, "mark": {"type": "text", "align": "left", "text": "FWHM=188"}, "encoding": {"x": {"datum": -1085, "type": "quantitative", "axis": null}, "y": {"datum": 6.27, "type": "quantitative", "axis": null}}},
     {"data": {"name": "blank"}, "mark": {"type": "text", "align": "right", "text": "HZ6"}, "encoding": {"x": {"datum": 925, "type": "quantitative", "axis": null}, "y": {"datum": 8.98, "type": "quantitative", "axis": null}}},
     {"data": {"name": "blank"}, "mark": {"type": "text", "align": "right", "text": "σₙ=0.96"}, "encoding": {"x": {"datum": 1165, "type": "quantitative", "axis": null}, "y": {"datum": 6.27, "type": "quantitative", "axis": null}}}
    ]},
   {"width": 237, "height": 111, "data": {"name": "HZ7"}, "resolve": {"axis": {"x": "independent", "y": "independent"}},
    "layer": [
     {"mark": {"type": "area", "interpolate": "step", "color": "#ffff00", "clip": true}, "encoding": {
       "x": {"field": "v", "type": "quantitative", "scale": {"domain": [-1280, 1280], "nice": false}, "axis": {"orient": "bottom", "values": [-1000,-500,0,500,1000], "labels": false, "title": null}},
       "y": {"field": "f", "type": "quantitative", "stack": null, "scale": {"domain": [-1.23, 3.2], "nice": false, "zero": false}, "axis": {"orient": "left", "values": [-1,0,1,2,3], "format": "d", "title": null}}}},
     {"mark": {"type": "line", "interpolate": "step", "color": "black", "strokeWidth": 1.5, "clip": true}, "encoding": {
       "x": {"field": "v", "type": "quantitative", "axis": {"orient": "top", "values": [-1000,-500,0,500,1000], "labels": false, "title": null}},
       "y": {"field": "f", "type": "quantitative", "axis": {"orient": "right", "values": [-1,0,1,2,3], "labels": false, "title": null}}}},
     {"data": {"name": "blank"}, "mark": {"type": "rule", "color": "black", "strokeWidth": 1.4}, "encoding": {"y": {"datum": 0, "type": "quantitative", "axis": null}}},
     {"data": {"name": "HZ7g"}, "mark": {"type": "line", "interpolate": "monotone", "color": "#ff0000", "strokeWidth": 1.2, "clip": true}, "encoding": {
       "x": {"field": "v", "type": "quantitative", "axis": {"orient": "bottom", "values": [-1200,-1100,-900,-800,-700,-600,-400,-300,-200,-100,100,200,300,400,600,700,800,900,1100,1200], "labels": false, "tickSize": -2.5, "title": null}},
       "y": {"field": "g", "type": "quantitative", "axis": {"orient": "left", "values": [-1.2,-0.8,-0.6,-0.4,-0.2,0.2,0.4,0.6,0.8,1.2,1.4,1.6,1.8,2.2,2.4,2.6,2.8], "labels": false, "tickSize": -2.5, "title": null}}}},
     {"mark": {"type": "point", "opacity": 0}, "encoding": {
       "x": {"field": "v", "type": "quantitative", "axis": {"orient": "top", "values": [-1200,-1100,-900,-800,-700,-600,-400,-300,-200,-100,100,200,300,400,600,700,800,900,1100,1200], "labels": false, "tickSize": -2.5, "title": null}},
       "y": {"field": "f", "type": "quantitative", "axis": {"orient": "right", "values": [-1.2,-0.8,-0.6,-0.4,-0.2,0.2,0.4,0.6,0.8,1.2,1.4,1.6,1.8,2.2,2.4,2.6,2.8], "labels": false, "tickSize": -2.5, "title": null}}}},
     {"data": {"name": "blank"}, "mark": {"type": "text", "align": "left", "text": "Fₚₑₐₖ=1.6"}, "encoding": {"x": {"datum": -1085, "type": "quantitative", "axis": null}, "y": {"datum": 2.48, "type": "quantitative", "axis": null}}},
     {"data": {"name": "blank"}, "mark": {"type": "text", "align": "left", "text": "FWHM=483"}, "encoding": {"x": {"datum": -1085, "type": "quantitative", "axis": null}, "y": {"datum": 1.64, "type": "quantitative", "axis": null}}},
     {"data": {"name": "blank"}, "mark": {"type": "text", "align": "right", "text": "HZ7"}, "encoding": {"x": {"datum": 925, "type": "quantitative", "axis": null}, "y": {"datum": 2.48, "type": "quantitative", "axis": null}}},
     {"data": {"name": "blank"}, "mark": {"type": "text", "align": "right", "text": "σₙ=0.49"}, "encoding": {"x": {"datum": 1165, "type": "quantitative", "axis": null}, "y": {"datum": 1.64, "type": "quantitative", "axis": null}}}
    ]},
   {"width": 237, "height": 60, "data": {"name": "HZ4"}, "resolve": {"axis": {"x": "independent", "y": "independent"}},
    "layer": [
     {"mark": {"type": "area", "interpolate": "step", "color": "#ffff00", "clip": true}, "encoding": {
       "x": {"field": "v", "type": "quantitative", "scale": {"domain": [-1280, 1280], "nice": false}, "axis": {"orient": "bottom", "values": [-1000,-500,0,500,1000], "labels": false, "title": null}},
       "y": {"field": "r", "type": "quantitative", "stack": null, "scale": {"domain": [-3.2, 3.2], "nice": false, "zero": false}, "axis": {"orient": "left", "values": [-2,0,2], "format": "d", "title": "Residuals", "titleX": -34, "titleBaseline": "alphabetic"}}}},
     {"mark": {"type": "line", "interpolate": "step", "color": "black", "strokeWidth": 1.5, "clip": true}, "encoding": {
       "x": {"field": "v", "type": "quantitative", "axis": {"orient": "top", "values": [-1000,-500,0,500,1000], "labels": false, "title": null}},
       "y": {"field": "r", "type": "quantitative", "axis": {"orient": "right", "values": [-2,0,2], "labels": false, "title": null}}}},
     {"data": {"name": "blank"}, "mark": {"type": "rule", "color": "black", "strokeWidth": 1.4}, "encoding": {"y": {"datum": 0, "type": "quantitative", "axis": null}}},
     {"mark": {"type": "point", "opacity": 0}, "encoding": {
       "x": {"field": "v", "type": "quantitative", "axis": {"orient": "bottom", "values": [-1200,-1100,-900,-800,-700,-600,-400,-300,-200,-100,100,200,300,400,600,700,800,900,1100,1200], "labels": false, "tickSize": -2.5, "title": null}},
       "y": {"field": "r", "type": "quantitative", "axis": {"orient": "left", "values": [-3,-2.5,-1.5,-1,-0.5,0.5,1,1.5,2.5,3], "labels": false, "tickSize": -2.5, "title": null}}}},
     {"mark": {"type": "point", "opacity": 0}, "encoding": {
       "x": {"field": "v", "type": "quantitative", "axis": {"orient": "top", "values": [-1200,-1100,-900,-800,-700,-600,-400,-300,-200,-100,100,200,300,400,600,700,800,900,1100,1200], "labels": false, "tickSize": -2.5, "title": null}},
       "y": {"field": "r", "type": "quantitative", "axis": {"orient": "right", "values": [-3,-2.5,-1.5,-1,-0.5,0.5,1,1.5,2.5,3], "labels": false, "tickSize": -2.5, "title": null}}}}
    ]},
   {"width": 237, "height": 60, "data": {"name": "HZ6"}, "resolve": {"axis": {"x": "independent", "y": "independent"}},
    "layer": [
     {"mark": {"type": "area", "interpolate": "step", "color": "#ffff00", "clip": true}, "encoding": {
       "x": {"field": "v", "type": "quantitative", "scale": {"domain": [-1280, 1280], "nice": false}, "axis": {"orient": "bottom", "values": [-1000,-500,0,500,1000], "labels": false, "title": null}},
       "y": {"field": "r", "type": "quantitative", "stack": null, "scale": {"domain": [-3.2, 3.2], "nice": false, "zero": false}, "axis": {"orient": "left", "values": [-2,0,2], "format": "d", "title": null}}}},
     {"mark": {"type": "line", "interpolate": "step", "color": "black", "strokeWidth": 1.5, "clip": true}, "encoding": {
       "x": {"field": "v", "type": "quantitative", "axis": {"orient": "top", "values": [-1000,-500,0,500,1000], "labels": false, "title": null}},
       "y": {"field": "r", "type": "quantitative", "axis": {"orient": "right", "values": [-2,0,2], "labels": false, "title": null}}}},
     {"data": {"name": "blank"}, "mark": {"type": "rule", "color": "black", "strokeWidth": 1.4}, "encoding": {"y": {"datum": 0, "type": "quantitative", "axis": null}}},
     {"mark": {"type": "point", "opacity": 0}, "encoding": {
       "x": {"field": "v", "type": "quantitative", "axis": {"orient": "bottom", "values": [-1200,-1100,-900,-800,-700,-600,-400,-300,-200,-100,100,200,300,400,600,700,800,900,1100,1200], "labels": false, "tickSize": -2.5, "title": null}},
       "y": {"field": "r", "type": "quantitative", "axis": {"orient": "left", "values": [-3,-2.5,-1.5,-1,-0.5,0.5,1,1.5,2.5,3], "labels": false, "tickSize": -2.5, "title": null}}}},
     {"mark": {"type": "point", "opacity": 0}, "encoding": {
       "x": {"field": "v", "type": "quantitative", "axis": {"orient": "top", "values": [-1200,-1100,-900,-800,-700,-600,-400,-300,-200,-100,100,200,300,400,600,700,800,900,1100,1200], "labels": false, "tickSize": -2.5, "title": null}},
       "y": {"field": "r", "type": "quantitative", "axis": {"orient": "right", "values": [-3,-2.5,-1.5,-1,-0.5,0.5,1,1.5,2.5,3], "labels": false, "tickSize": -2.5, "title": null}}}},
     {"data": {"name": "blank"}, "mark": {"type": "rect", "color": "#bebebe"}, "encoding": {"x": {"datum": 100, "type": "quantitative", "axis": null}, "x2": {"datum": 290}}}
    ]},
   {"width": 237, "height": 60, "data": {"name": "HZ7"}, "resolve": {"axis": {"x": "independent", "y": "independent"}},
    "layer": [
     {"mark": {"type": "area", "interpolate": "step", "color": "#ffff00", "clip": true}, "encoding": {
       "x": {"field": "v", "type": "quantitative", "scale": {"domain": [-1280, 1280], "nice": false}, "axis": {"orient": "bottom", "values": [-1000,-500,0,500,1000], "labels": false, "title": null}},
       "y": {"field": "r", "type": "quantitative", "stack": null, "scale": {"domain": [-3.2, 3.2], "nice": false, "zero": false}, "axis": {"orient": "left", "values": [-2,0,2], "format": "d", "title": null}}}},
     {"mark": {"type": "line", "interpolate": "step", "color": "black", "strokeWidth": 1.5, "clip": true}, "encoding": {
       "x": {"field": "v", "type": "quantitative", "axis": {"orient": "top", "values": [-1000,-500,0,500,1000], "labels": false, "title": null}},
       "y": {"field": "r", "type": "quantitative", "axis": {"orient": "right", "values": [-2,0,2], "labels": false, "title": null}}}},
     {"data": {"name": "blank"}, "mark": {"type": "rule", "color": "black", "strokeWidth": 1.4}, "encoding": {"y": {"datum": 0, "type": "quantitative", "axis": null}}},
     {"mark": {"type": "point", "opacity": 0}, "encoding": {
       "x": {"field": "v", "type": "quantitative", "axis": {"orient": "bottom", "values": [-1200,-1100,-900,-800,-700,-600,-400,-300,-200,-100,100,200,300,400,600,700,800,900,1100,1200], "labels": false, "tickSize": -2.5, "title": null}},
       "y": {"field": "r", "type": "quantitative", "axis": {"orient": "left", "values": [-3,-2.5,-1.5,-1,-0.5,0.5,1,1.5,2.5,3], "labels": false, "tickSize": -2.5, "title": null}}}},
     {"mark": {"type": "point", "opacity": 0}, "encoding": {
       "x": {"field": "v", "type": "quantitative", "axis": {"orient": "top", "values": [-1200,-1100,-900,-800,-700,-600,-400,-300,-200,-100,100,200,300,400,600,700,800,900,1100,1200], "labels": false, "tickSize": -2.5, "title": null}},
       "y": {"field": "r", "type": "quantitative", "axis": {"orient": "right", "values": [-3,-2.5,-1.5,-1,-0.5,0.5,1,1.5,2.5,3], "labels": false, "tickSize": -2.5, "title": null}}}}
    ]},
   {"width": 237, "height": 14, "data": {"name": "blank"}, "view": {"stroke": null}, "mark": {"type": "point", "opacity": 0}, "encoding": {}},
   {"width": 237, "height": 14, "data": {"name": "blank"}, "view": {"stroke": null}, "mark": {"type": "point", "opacity": 0}, "encoding": {}},
   {"width": 237, "height": 14, "data": {"name": "blank"}, "view": {"stroke": null}, "mark": {"type": "point", "opacity": 0}, "encoding": {}},
   {"width": 237, "height": 111, "data": {"name": "HZ8E"}, "resolve": {"axis": {"x": "independent", "y": "independent"}},
    "layer": [
     {"mark": {"type": "area", "interpolate": "step", "color": "#ffff00", "clip": true}, "encoding": {
       "x": {"field": "v", "type": "quantitative", "scale": {"domain": [-1280, 1280], "nice": false}, "axis": {"orient": "bottom", "values": [-1000,-500,0,500,1000], "labels": false, "title": null}},
       "y": {"field": "f", "type": "quantitative", "stack": null, "scale": {"domain": [-0.83, 2.07], "nice": false, "zero": false}, "axis": {"orient": "left", "values": [-0.5,0,0.5,1,1.5,2], "format": ".1f", "title": "Flux [mJy]", "titleX": -34, "titleBaseline": "alphabetic"}}}},
     {"mark": {"type": "line", "interpolate": "step", "color": "black", "strokeWidth": 1.5, "clip": true}, "encoding": {
       "x": {"field": "v", "type": "quantitative", "axis": {"orient": "top", "values": [-1000,-500,0,500,1000], "labels": false, "title": null}},
       "y": {"field": "f", "type": "quantitative", "axis": {"orient": "right", "values": [-0.5,0,0.5,1,1.5,2], "labels": false, "title": null}}}},
     {"data": {"name": "blank"}, "mark": {"type": "rule", "color": "black", "strokeWidth": 1.4}, "encoding": {"y": {"datum": 0, "type": "quantitative", "axis": null}}},
     {"data": {"name": "HZ8Eg"}, "mark": {"type": "line", "interpolate": "monotone", "color": "#ff0000", "strokeWidth": 1.2, "clip": true}, "encoding": {
       "x": {"field": "v", "type": "quantitative", "axis": {"orient": "bottom", "values": [-1200,-1100,-900,-800,-700,-600,-400,-300,-200,-100,100,200,300,400,600,700,800,900,1100,1200], "labels": false, "tickSize": -2.5, "title": null}},
       "y": {"field": "g", "type": "quantitative", "axis": {"orient": "left", "values": [-0.8,-0.7,-0.6,-0.4,-0.3,-0.2,-0.1,0.1,0.2,0.3,0.4,0.6,0.7,0.8,0.9,1.1,1.2,1.3,1.4,1.6,1.7,1.8,1.9], "labels": false, "tickSize": -2.5, "title": null}}}},
     {"mark": {"type": "point", "opacity": 0}, "encoding": {
       "x": {"field": "v", "type": "quantitative", "axis": {"orient": "top", "values": [-1200,-1100,-900,-800,-700,-600,-400,-300,-200,-100,100,200,300,400,600,700,800,900,1100,1200], "labels": false, "tickSize": -2.5, "title": null}},
       "y": {"field": "f", "type": "quantitative", "axis": {"orient": "right", "values": [-0.8,-0.7,-0.6,-0.4,-0.3,-0.2,-0.1,0.1,0.2,0.3,0.4,0.6,0.7,0.8,0.9,1.1,1.2,1.3,1.4,1.6,1.7,1.8,1.9], "labels": false, "tickSize": -2.5, "title": null}}}},
     {"data": {"name": "blank"}, "mark": {"type": "text", "align": "left", "text": "Fₚₑₐₖ=1.3"}, "encoding": {"x": {"datum": -1085, "type": "quantitative", "axis": null}, "y": {"datum": 1.57, "type": "quantitative", "axis": null}}},
     {"data": {"name": "blank"}, "mark": {"type": "text", "align": "left", "text": "FWHM=254"}, "encoding": {"x": {"datum": -1085, "type": "quantitative", "axis": null}, "y": {"datum": 1.03, "type": "quantitative", "axis": null}}},
     {"data": {"name": "blank"}, "mark": {"type": "text", "align": "right", "text": "HZ8E"}, "encoding": {"x": {"datum": 925, "type": "quantitative", "axis": null}, "y": {"datum": 1.57, "type": "quantitative", "axis": null}}},
     {"data": {"name": "blank"}, "mark": {"type": "text", "align": "right", "text": "σₙ=0.27"}, "encoding": {"x": {"datum": 1165, "type": "quantitative", "axis": null}, "y": {"datum": 1.03, "type": "quantitative", "axis": null}}}
    ]},
   {"width": 237, "height": 111, "data": {"name": "HZ8W"}, "resolve": {"axis": {"x": "independent", "y": "independent"}},
    "layer": [
     {"mark": {"type": "area", "interpolate": "step", "color": "#ffff00", "clip": true}, "encoding": {
       "x": {"field": "v", "type": "quantitative", "scale": {"domain": [-1280, 1280], "nice": false}, "axis": {"orient": "bottom", "values": [-1000,-500,0,500,1000], "labels": false, "title": null}},
       "y": {"field": "f", "type": "quantitative", "stack": null, "scale": {"domain": [-1.2, 2.68], "nice": false, "zero": false}, "axis": {"orient": "left", "values": [-1,0,1,2], "format": "d", "title": null}}}},
     {"mark": {"type": "line", "interpolate": "step", "color": "black", "strokeWidth": 1.5, "clip": true}, "encoding": {
       "x": {"field": "v", "type": "quantitative", "axis": {"orient": "top", "values": [-1000,-500,0,500,1000], "labels": false, "title": null}},
       "y": {"field": "f", "type": "quantitative", "axis": {"orient": "right", "values": [-1,0,1,2], "labels": false, "title": null}}}},
     {"data": {"name": "blank"}, "mark": {"type": "rule", "color": "black", "strokeWidth": 1.4}, "encoding": {"y": {"datum": 0, "type": "quantitative", "axis": null}}},
     {"data": {"name": "HZ8Wg"}, "mark": {"type": "line", "interpolate": "monotone", "color": "#ff0000", "strokeWidth": 1.2, "clip": true}, "encoding": {
       "x": {"field": "v", "type": "quantitative", "axis": {"orient": "bottom", "values": [-1200,-1100,-900,-800,-700,-600,-400,-300,-200,-100,100,200,300,400,600,700,800,900,1100,1200], "labels": false, "tickSize": -2.5, "title": null}},
       "y": {"field": "g", "type": "quantitative", "axis": {"orient": "left", "values": [-0.8,-0.6,-0.4,-0.2,0.2,0.4,0.6,0.8,1.2,1.4,1.6,1.8,2.2,2.4,2.6], "labels": false, "tickSize": -2.5, "title": null}}}},
     {"mark": {"type": "point", "opacity": 0}, "encoding": {
       "x": {"field": "v", "type": "quantitative", "axis": {"orient": "top", "values": [-1200,-1100,-900,-800,-700,-600,-400,-300,-200,-100,100,200,300,400,600,700,800,900,1100,1200], "labels": false, "tickSize": -2.5, "title": null}},
       "y": {"field": "f", "type": "quantitative", "axis": {"orient": "right", "values": [-0.8,-0.6,-0.4,-0.2,0.2,0.4,0.6,0.8,1.2,1.4,1.6,1.8,2.2,2.4,2.6], "labels": false, "tickSize": -2.5, "title": null}}}},
     {"data": {"name": "blank"}, "mark": {"type": "text", "align": "left", "text": "Fₚₑₐₖ=1.8"}, "encoding": {"x": {"datum": -1085, "type": "quantitative", "axis": null}, "y": {"datum": 2.02, "type": "quantitative", "axis": null}}},
     {"data": {"name": "blank"}, "mark": {"type": "text", "align": "left", "text": "FWHM=136"}, "encoding": {"x": {"datum": -1085, "type": "quantitative", "axis": null}, "y": {"datum": 1.28, "type": "quantitative", "axis": null}}},
     {"data": {"name": "blank"}, "mark": {"type": "text", "align": "right", "text": "HZ8W"}, "encoding": {"x": {"datum": 925, "type": "quantitative", "axis": null}, "y": {"datum": 2.02, "type": "quantitative", "axis": null}}},
     {"data": {"name": "blank"}, "mark": {"type": "text", "align": "right", "text": "σₙ=0.45"}, "encoding": {"x": {"datum": 1165, "type": "quantitative", "axis": null}, "y": {"datum": 1.28, "type": "quantitative", "axis": null}}}
    ]},
   {"width": 237, "height": 111, "data": {"name": "HZ9"}, "resolve": {"axis": {"x": "independent", "y": "independent"}},
    "layer": [
     {"mark": {"type": "area", "interpolate": "step", "color": "#ffff00", "clip": true}, "encoding": {
       "x": {"field": "v", "type": "quantitative", "scale": {"domain": [-1280, 1280], "nice": false}, "axis": {"orient": "bottom", "values": [-1000,-500,0,500,1000], "labels": false, "title": null}},
       "y": {"field": "f", "type": "quantitative", "stack": null, "scale": {"domain": [-1.67, 6.8], "nice": false, "zero": false}, "axis": {"orient": "left", "values": [0,2,4,6], "format": "d", "title": null}}}},
     {"mark": {"type": "line", "interpolate": "step", "color": "black", "strokeWidth": 1.5, "clip": true}, "encoding": {
       "x": {"field": "v", "type": "quantitative", "axis": {"orient": "top", "values": [-1000,-500,0,500,1000], "labels": false, "title": null}},
       "y": {"field": "f", "type": "quantitative", "axis": {"orient": "right", "values": [0,2,4,6], "labels": false, "title": null}}}},
     {"data": {"name": "blank"}, "mark": {"type": "rule", "color": "black", "strokeWidth": 1.4}, "encoding": {"y": {"datum": 0, "type": "quantitative", "axis": null}}},
     {"data": {"name": "HZ9g"}, "mark": {"type": "line", "interpolate": "monotone", "color": "#ff0000", "strokeWidth": 1.2, "clip": true}, "encoding": {
       "x": {"field": "v", "type": "quantitative", "axis": {"orient": "bottom", "values": [-1200,-1100,-900,-800,-700,-600,-400,-300,-200,-100,100,200,300,400,600,700,800,900,1100,1200], "labels": false, "tickSize": -2.5, "title": null}},
       "y": {"field": "g", "type": "quantitative", "axis": {"orient": "left", "values": [-1.5,-1,-0.5,0.5,1,1.5,2.5,3,3.5,4.5,5,5.5,6.5], "labels": false, "tickSize": -2.5, "title": null}}}},
     {"mark": {"type": "point", "opacity": 0}, "encoding": {
       "x": {"field": "v", "type": "quantitative", "axis": {"orient": "top", "values": [-1200,-1100,-900,-800,-700,-600,-400,-300,-200,-100,100,200,300,400,600,700,800,900,1100,1200], "labels": false, "tickSize": -2.5, "title": null}},
       "y": {"field": "f", "type": "quantitative", "axis": {"orient": "right", "values": [-1.5,-1,-0.5,0.5,1,1.5,2.5,3,3.5,4.5,5,5.5,6.5], "labels": false, "tickSize": -2.5, "title": null}}}},
     {"data": {"name": "blank"}, "mark": {"type": "text", "align": "left", "text": "Fₚₑₐₖ=5.3"}, "encoding": {"x": {"datum": -1085, "type": "quantitative", "axis": null}, "y": {"datum": 5.35, "type": "quantitative", "axis": null}}},
     {"data": {"name": "blank"}, "mark": {"type": "text", "align": "left", "text": "FWHM=351"}, "encoding": {"x": {"datum": -1085, "type": "quantitative", "axis": null}, "y": {"datum": 3.75, "type": "quantitative", "axis": null}}},
     {"data": {"name": "blank"}, "mark": {"type": "text", "align": "right", "text": "HZ9"}, "encoding": {"x": {"datum": 925, "type": "quantitative", "axis": null}, "y": {"datum": 5.35, "type": "quantitative", "axis": null}}},
     {"data": {"name": "blank"}, "mark": {"type": "text", "align": "right", "text": "σₙ=0.69"}, "encoding": {"x": {"datum": 1165, "type": "quantitative", "axis": null}, "y": {"datum": 3.75, "type": "quantitative", "axis": null}}}
    ]},
   {"width": 237, "height": 60, "data": {"name": "HZ8E"}, "resolve": {"axis": {"x": "independent", "y": "independent"}},
    "layer": [
     {"mark": {"type": "area", "interpolate": "step", "color": "#ffff00", "clip": true}, "encoding": {
       "x": {"field": "v", "type": "quantitative", "scale": {"domain": [-1280, 1280], "nice": false}, "axis": {"orient": "bottom", "values": [-1000,-500,0,500,1000], "labels": true, "format": "d", "title": "vel [km s⁻¹]"}},
       "y": {"field": "r", "type": "quantitative", "stack": null, "scale": {"domain": [-3.2, 3.2], "nice": false, "zero": false}, "axis": {"orient": "left", "values": [-2,0,2], "format": "d", "title": "Residuals", "titleX": -34, "titleBaseline": "alphabetic"}}}},
     {"mark": {"type": "line", "interpolate": "step", "color": "black", "strokeWidth": 1.5, "clip": true}, "encoding": {
       "x": {"field": "v", "type": "quantitative", "axis": {"orient": "top", "values": [-1000,-500,0,500,1000], "labels": false, "title": null}},
       "y": {"field": "r", "type": "quantitative", "axis": {"orient": "right", "values": [-2,0,2], "labels": false, "title": null}}}},
     {"data": {"name": "blank"}, "mark": {"type": "rule", "color": "black", "strokeWidth": 1.4}, "encoding": {"y": {"datum": 0, "type": "quantitative", "axis": null}}},
     {"mark": {"type": "point", "opacity": 0}, "encoding": {
       "x": {"field": "v", "type": "quantitative", "axis": {"orient": "bottom", "values": [-1200,-1100,-900,-800,-700,-600,-400,-300,-200,-100,100,200,300,400,600,700,800,900,1100,1200], "labels": false, "tickSize": -2.5, "title": null}},
       "y": {"field": "r", "type": "quantitative", "axis": {"orient": "left", "values": [-3,-2.5,-1.5,-1,-0.5,0.5,1,1.5,2.5,3], "labels": false, "tickSize": -2.5, "title": null}}}},
     {"mark": {"type": "point", "opacity": 0}, "encoding": {
       "x": {"field": "v", "type": "quantitative", "axis": {"orient": "top", "values": [-1200,-1100,-900,-800,-700,-600,-400,-300,-200,-100,100,200,300,400,600,700,800,900,1100,1200], "labels": false, "tickSize": -2.5, "title": null}},
       "y": {"field": "r", "type": "quantitative", "axis": {"orient": "right", "values": [-3,-2.5,-1.5,-1,-0.5,0.5,1,1.5,2.5,3], "labels": false, "tickSize": -2.5, "title": null}}}}
    ]},
   {"width": 237, "height": 60, "data": {"name": "HZ8W"}, "resolve": {"axis": {"x": "independent", "y": "independent"}},
    "layer": [
     {"mark": {"type": "area", "interpolate": "step", "color": "#ffff00", "clip": true}, "encoding": {
       "x": {"field": "v", "type": "quantitative", "scale": {"domain": [-1280, 1280], "nice": false}, "axis": {"orient": "bottom", "values": [-1000,-500,0,500,1000], "labels": true, "format": "d", "title": "vel [km s⁻¹]"}},
       "y": {"field": "r", "type": "quantitative", "stack": null, "scale": {"domain": [-3.2, 3.2], "nice": false, "zero": false}, "axis": {"orient": "left", "values": [-2,0,2], "format": "d", "title": null}}}},
     {"mark": {"type": "line", "interpolate": "step", "color": "black", "strokeWidth": 1.5, "clip": true}, "encoding": {
       "x": {"field": "v", "type": "quantitative", "axis": {"orient": "top", "values": [-1000,-500,0,500,1000], "labels": false, "title": null}},
       "y": {"field": "r", "type": "quantitative", "axis": {"orient": "right", "values": [-2,0,2], "labels": false, "title": null}}}},
     {"data": {"name": "blank"}, "mark": {"type": "rule", "color": "black", "strokeWidth": 1.4}, "encoding": {"y": {"datum": 0, "type": "quantitative", "axis": null}}},
     {"mark": {"type": "point", "opacity": 0}, "encoding": {
       "x": {"field": "v", "type": "quantitative", "axis": {"orient": "bottom", "values": [-1200,-1100,-900,-800,-700,-600,-400,-300,-200,-100,100,200,300,400,600,700,800,900,1100,1200], "labels": false, "tickSize": -2.5, "title": null}},
       "y": {"field": "r", "type": "quantitative", "axis": {"orient": "left", "values": [-3,-2.5,-1.5,-1,-0.5,0.5,1,1.5,2.5,3], "labels": false, "tickSize": -2.5, "title": null}}}},
     {"mark": {"type": "point", "opacity": 0}, "encoding": {
       "x": {"field": "v", "type": "quantitative", "axis": {"orient": "top", "values": [-1200,-1100,-900,-800,-700,-600,-400,-300,-200,-100,100,200,300,400,600,700,800,900,1100,1200], "labels": false, "tickSize": -2.5, "title": null}},
       "y": {"field": "r", "type": "quantitative", "axis": {"orient": "right", "values": [-3,-2.5,-1.5,-1,-0.5,0.5,1,1.5,2.5,3], "labels": false, "tickSize": -2.5, "title": null}}}}
    ]},
   {"width": 237, "height": 60, "data": {"name": "HZ9"}, "resolve": {"axis": {"x": "independent", "y": "independent"}},
    "layer": [
     {"mark": {"type": "area", "interpolate": "step", "color": "#ffff00", "clip": true}, "encoding": {
       "x": {"field": "v", "type": "quantitative", "scale": {"domain": [-1280, 1280], "nice": false}, "axis": {"orient": "bottom", "values": [-1000,-500,0,500,1000], "labels": true, "format": "d", "title": "vel [km s⁻¹]"}},
       "y": {"field": "r", "type": "quantitative", "stack": null, "scale": {"domain": [-3.2, 3.2], "nice": false, "zero": false}, "axis": {"orient": "left", "values": [-2,0,2], "format": "d", "title": null}}}},
     {"mark": {"type": "line", "interpolate": "step", "color": "black", "strokeWidth": 1.5, "clip": true}, "encoding": {
       "x": {"field": "v", "type": "quantitative", "axis": {"orient": "top", "values": [-1000,-500,0,500,1000], "labels": false, "title": null}},
       "y": {"field": "r", "type": "quantitative", "axis": {"orient": "right", "values": [-2,0,2], "labels": false, "title": null}}}},
     {"data": {"name": "blank"}, "mark": {"type": "rule", "color": "black", "strokeWidth": 1.4}, "encoding": {"y": {"datum": 0, "type": "quantitative", "axis": null}}},
     {"mark": {"type": "point", "opacity": 0}, "encoding": {
       "x": {"field": "v", "type": "quantitative", "axis": {"orient": "bottom", "values": [-1200,-1100,-900,-800,-700,-600,-400,-300,-200,-100,100,200,300,400,600,700,800,900,1100,1200], "labels": false, "tickSize": -2.5, "title": null}},
       "y": {"field": "r", "type": "quantitative", "axis": {"orient": "left", "values": [-3,-2.5,-1.5,-1,-0.5,0.5,1,1.5,2.5,3], "labels": false, "tickSize": -2.5, "title": null}}}},
     {"mark": {"type": "point", "opacity": 0}, "encoding": {
       "x": {"field": "v", "type": "quantitative", "axis": {"orient": "top", "values": [-1200,-1100,-900,-800,-700,-600,-400,-300,-200,-100,100,200,300,400,600,700,800,900,1100,1200], "labels": false, "tickSize": -2.5, "title": null}},
       "y": {"field": "r", "type": "quantitative", "axis": {"orient": "right", "values": [-3,-2.5,-1.5,-1,-0.5,0.5,1,1.5,2.5,3], "labels": false, "tickSize": -2.5, "title": null}}}}
    ]}
]
}
